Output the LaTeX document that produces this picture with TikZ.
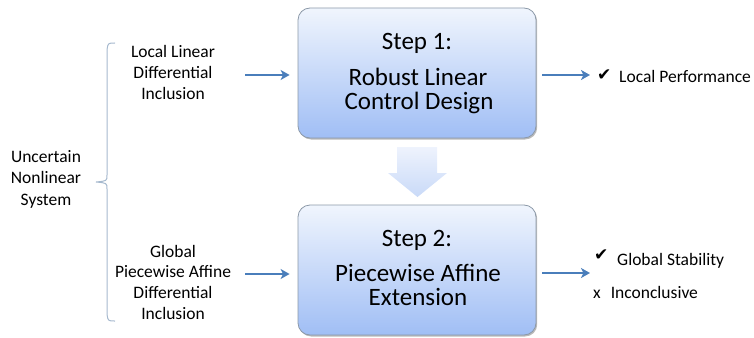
\documentclass[tikz,border=0pt]{standalone}
\usepackage{fontspec}
\setmainfont{Carlito}
\newfontfamily\symfont{DejaVu Sans}
\usetikzlibrary{arrows.meta,shadows}
\definecolor{arrowblue}{HTML}{4A7EBB}
\definecolor{boxtop}{HTML}{F0F5FD}
\definecolor{boxbot}{HTML}{A0BEF5}
\definecolor{boxline}{HTML}{8C99A8}
\definecolor{bracecol}{HTML}{A6B9CE}
\definecolor{bigtop}{HTML}{EEF3FD}
\definecolor{bigbot}{HTML}{C9DAF8}
\tikzset{
  stepbox/.style={draw=boxline, line width=0.8pt, rounded corners=12pt,
    top color=boxtop, bottom color=boxbot,
    minimum width=238pt, minimum height=130pt, inner sep=0pt,
    drop shadow={shadow xshift=1.2pt, shadow yshift=-1.5pt, opacity=0.45, fill=black!60}},
  bigtxt/.style={anchor=base, inner sep=0pt, text height=16pt, text depth=5pt,
    font=\fontsize{25}{25}\selectfont},
  smalltxt/.style={anchor=base, inner sep=0pt, font=\fontsize{17.5}{21}\selectfont},
  lefttxt/.style={anchor=base west, inner sep=0pt, font=\fontsize{17.5}{21}\selectfont},
  checktxt/.style={anchor=base west, inner sep=0pt, font=\symfont\fontsize{17}{17}\selectfont},
  conn/.style={draw=arrowblue, line width=2pt, -{Stealth[length=9pt, width=10pt, inset=2.5pt]}},
  bracestyle/.style={draw=bracecol, line width=1pt},
  blockarrow/.style={top color=bigtop, bottom color=bigbot, draw=none}
}
\begin{document}
\begin{tikzpicture}[x=1pt, y=-1pt]
\useasboundingbox (0,0) rectangle (754,337);

% step boxes
\node[stepbox] (b1) at (417,73) {};
\node[stepbox] (b2) at (417,270) {};

\node[bigtxt] (s1a) at (417,49) {Step 1:};
\node[bigtxt] (s1b) at (418,85) {Robust Linear};
\node[bigtxt] (s1c) at (419,109) {Control Design};

\node[bigtxt] (s2a) at (417,246) {Step 2:};
\node[bigtxt] (s2b) at (418,281) {Piecewise Affine};
\node[bigtxt] (s2c) at (418,305) {Extension};

% block arrow between the steps
\path[blockarrow] (397,147) -- (437,147) -- (437,173) -- (447,173) -- (417.5,197)
  -- (388,173) -- (397,173) -- cycle;

% left texts
\node[smalltxt] (u1) at (46,162) {Uncertain};
\node[smalltxt] (u2) at (46,183) {Nonlinear};
\node[smalltxt] (u3) at (46,205) {System};

\node[smalltxt] (l1) at (173,57) {Local Linear};
\node[smalltxt] (l2) at (173,78) {Differential};
\node[smalltxt] (l3) at (173,99) {Inclusion};

\node[smalltxt] (g1) at (173,257) {Global};
\node[smalltxt] (g2) at (173,277) {Piecewise Affine};
\node[smalltxt] (g3) at (173,298) {Differential};
\node[smalltxt] (g4) at (173,319) {Inclusion};

% brace
\draw[bracestyle] (115,43) .. controls (108,43) .. (107,50) -- (107,175)
  .. controls (107,181) .. (96,182) .. controls (107,183) .. (107,189)
  -- (107,314) .. controls (108,321) .. (115,321);

% input arrows
\coordinate (in1) at (245,75);
\coordinate (in2) at (245,274);
\draw[conn, shorten >=8pt] (in1) -- (in1 -| b1.west);
\draw[conn, shorten >=8pt] (in2) -- (in2 -| b2.west);

% output arrows
\coordinate (out1) at (590,75);
\coordinate (out2) at (590,273);
\draw[conn, shorten <=6pt] (out1 -| b1.east) -- (out1);
\draw[conn, shorten <=6pt] (out2 -| b2.east) -- (out2);

% right texts
\node[checktxt] (c1) at (597,80) {✔};
\node[lefttxt] (r1) at (619,82) {Local Performance};
\node[checktxt] (c2) at (594,260) {✔};
\node[lefttxt] (r2) at (617,265) {Global Stability};
\node[lefttxt] (r3) at (593,298) {x\hspace{10pt}Inconclusive};
\end{tikzpicture}
\end{document}
